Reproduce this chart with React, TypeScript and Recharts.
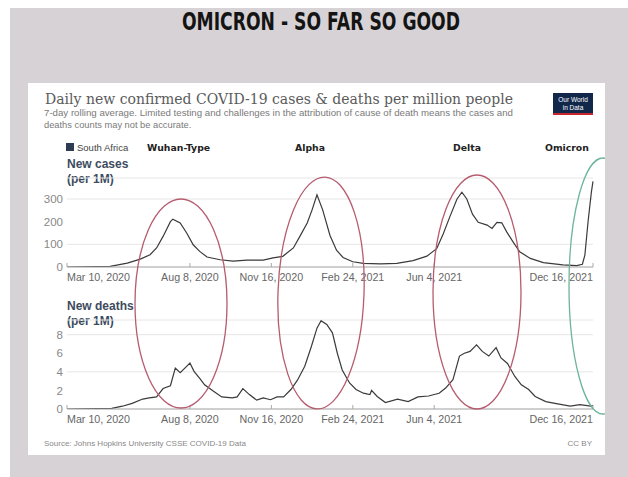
import React from "react";
import { LineChart, Line, XAxis, YAxis, CartesianGrid } from "recharts";

// Days since Mar 10, 2020
const caseDays = [0, 53, 74, 90, 102, 110, 118, 127, 130, 139, 147, 155, 163, 172, 188, 204, 221, 241, 253, 265, 278, 286, 295, 301, 307, 314, 323, 331, 339, 351, 364, 385, 405, 425, 442, 454, 462, 470, 479, 485, 491, 498, 505, 516, 522, 528, 534, 540, 548, 556, 569, 585, 609, 626, 633, 636, 640, 644, 646];
const caseValues = [0, 3, 17, 35, 54, 84, 135, 200, 211, 194, 150, 98, 69, 44, 32, 26, 30, 30, 40, 47, 84, 135, 194, 252, 318, 252, 139, 74, 42, 23, 16, 14, 16, 28, 48, 81, 146, 220, 300, 330, 300, 233, 197, 185, 170, 197, 195, 155, 110, 67, 38, 19, 9, 6, 12, 52, 202, 330, 378];

const deathDays = [0, 55, 68, 80, 93, 101, 110, 118, 127, 133, 139, 146, 151, 156, 163, 169, 180, 190, 203, 209, 216, 224, 233, 241, 250, 258, 266, 275, 283, 292, 300, 307, 312, 319, 326, 332, 338, 347, 355, 364, 372, 374, 381, 391, 406, 419, 431, 444, 457, 465, 474, 482, 488, 495, 503, 510, 518, 527, 533, 541, 550, 558, 567, 575, 588, 601, 618, 630, 643, 646];
const deathValues = [0, 0.07, 0.3, 0.6, 1.07, 1.2, 1.3, 2.2, 2.5, 4.4, 3.9, 4.5, 4.95, 4.05, 3.3, 2.6, 1.9, 1.3, 1.2, 1.3, 2.2, 1.55, 0.95, 1.2, 1.0, 1.3, 1.3, 2.1, 3.1, 4.6, 6.7, 8.7, 9.5, 9.1, 8.2, 6.0, 4.2, 2.8, 2.1, 1.7, 1.55, 2.0, 1.35, 0.7, 1.07, 0.8, 1.3, 1.4, 1.7, 2.25, 3.15, 5.7, 6.0, 6.2, 6.9, 6.2, 5.7, 6.6, 5.5, 4.9, 3.5, 2.6, 2.1, 1.35, 0.8, 0.57, 0.3, 0.47, 0.3, 0.4];

const xTickDays = [0, 151, 251, 351, 451, 646];
const xTickLabels = ["Mar 10, 2020", "Aug 8, 2020", "Nov 16, 2020", "Feb 24, 2021", "Jun 4, 2021", "Dec 16, 2021"];
const caseTicks = [0, 100, 200, 300];
const deathTicks = [0, 2, 4, 6, 8];
const waveLabels = ["Wuhan-Type", "Alpha", "Delta", "Omicron"];

const caseData = caseDays.map((d, i) => ({ day: d, value: caseValues[i] }));
const deathData = deathDays.map((d, i) => ({ day: d, value: deathValues[i] }));

const SANS = "Liberation Sans, Arial, sans-serif";

const XTick = (props: any) => {
  const { x, y, payload } = props;
  const idx = xTickDays.indexOf(payload.value);
  const anchor = idx === 0 ? "start" : idx === xTickDays.length - 1 ? "end" : "middle";
  return (
    <g>
      <line x1={x} x2={x} y1={y - 4} y2={y} stroke="#aaa" strokeWidth={1} />
      <text x={x} y={y + 14} textAnchor={anchor} fontSize={10.7} fill="#666" fontFamily={SANS}>
        {xTickLabels[idx]}
      </text>
    </g>
  );
};

function Panel({ data, ticks, max }: { data: any[]; ticks: number[]; max: number }) {
  return (
    <LineChart width={570} height={117} data={data} margin={{ top: 8, right: 7, bottom: 0, left: 0 }}>
      <CartesianGrid horizontal={true} vertical={false} stroke="#e6e6e6" />
      <XAxis
        dataKey="day"
        type="number"
        domain={[0, 646]}
        ticks={xTickDays}
        height={20}
        tickSize={0}
        tickMargin={0}
        tickLine={false}
        axisLine={{ stroke: "#aaa" }}
        tick={<XTick />}
        interval={0}
      />
      <YAxis
        width={37}
        domain={[0, max]}
        ticks={ticks}
        allowDataOverflow
        axisLine={false}
        tickLine={false}
        tickSize={0}
        tickMargin={4}
        tick={{ fontSize: 11.5, fill: "#888", fontFamily: SANS }}
      />
      <Line type="linear" dataKey="value" stroke="#3a3a3a" strokeWidth={1.2} dot={false} isAnimationActive={false} />
    </LineChart>
  );
}

export default function App() {
  return (
    <div style={{ position: "absolute", left: 0, top: 0, width: 628, height: 477, background: "#fff", overflow: "hidden", fontFamily: SANS }}>
      <div style={{ position: "absolute", left: 10, top: 8, width: 618, height: 469, background: "#d7d2d5" }} />
      <div style={{ position: "absolute", left: 28, top: 83, width: 577, height: 372, background: "#fff" }} />
      <svg width={628} height={477} style={{ position: "absolute", left: 0, top: 0 }}>
        <text x={321} y={30} textAnchor="middle" fontFamily="DejaVu Sans, sans-serif" fontWeight="bold" fontSize={25} textLength={278} lengthAdjust="spacingAndGlyphs" fill="#141414">
          OMICRON - SO FAR SO GOOD
        </text>
        <text x={45} y={104} fontFamily="DejaVu Serif, serif" fontSize={14.5} textLength={468} lengthAdjust="spacingAndGlyphs" fill="#5b5b5b">
          Daily new confirmed COVID-19 cases &amp; deaths per million people
        </text>
        <text x={44} y={116} fontFamily={SANS} fontSize={9.3} textLength={469} lengthAdjust="spacingAndGlyphs" fill="#7a7a7a">
          7-day rolling average. Limited testing and challenges in the attribution of cause of death means the cases and
        </text>
        <text x={44} y={127.5} fontFamily={SANS} fontSize={9.3} fill="#7a7a7a">
          deaths counts may not be accurate.
        </text>
        <rect x={553} y={93} width={40} height={22} fill="#12284b" />
        <rect x={553} y={113} width={40} height={2} fill="#c8252d" />
        <text x={573} y={102} textAnchor="middle" fontFamily={SANS} fontSize={6.5} fill="#fff">Our World</text>
        <text x={573} y={109.5} textAnchor="middle" fontFamily={SANS} fontSize={6.5} fill="#fff">in Data</text>

        <rect x={66} y={143} width={8} height={8} fill="#2f3d52" />
        <text x={77} y={150.5} fontFamily={SANS} fontSize={9.5} fill="#444">South Africa</text>
        <text x={147} y={150.5} fontFamily="DejaVu Sans, sans-serif" fontWeight="bold" fontSize={9.3} fill="#222">{waveLabels[0]}</text>
        <text x={295} y={150.5} fontFamily="DejaVu Sans, sans-serif" fontWeight="bold" fontSize={9.3} fill="#222">{waveLabels[1]}</text>
        <text x={453} y={150.5} fontFamily="DejaVu Sans, sans-serif" fontWeight="bold" fontSize={9.3} fill="#222">{waveLabels[2]}</text>
        <text x={545} y={150.5} fontFamily="DejaVu Sans, sans-serif" fontWeight="bold" fontSize={9.3} fill="#222">{waveLabels[3]}</text>

        <text x={67} y={168} fontFamily={SANS} fontWeight="bold" fontSize={12} fill="#3d4b5e">New cases</text>
        <text x={67} y={183} fontFamily={SANS} fontWeight="bold" fontSize={12} fill="#3d4b5e">(per 1M)</text>
        <text x={67} y={310} fontFamily={SANS} fontWeight="bold" fontSize={12} fill="#3d4b5e">New deaths</text>
        <text x={67} y={325} fontFamily={SANS} fontWeight="bold" fontSize={12} fill="#3d4b5e">(per 1M)</text>

        <text x={44} y={446} fontFamily={SANS} fontSize={8} fill="#888">Source: Johns Hopkins University CSSE COVID-19 Data</text>
        <text x={592} y={446} textAnchor="end" fontFamily={SANS} fontSize={8} fill="#888">CC BY</text>
      </svg>

      <div style={{ position: "absolute", left: 30, top: 170 }}>
        <Panel data={caseData} ticks={caseTicks} max={392.6} />
      </div>
      <div style={{ position: "absolute", left: 30, top: 312 }}>
        <Panel data={deathData} ticks={deathTicks} max={9.58} />
      </div>

      <svg width={628} height={477} style={{ position: "absolute", left: 0, top: 0, pointerEvents: "none" }}>
        <defs>
          <clipPath id="cardClip">
            <rect x={0} y={0} width={605} height={477} />
          </clipPath>
        </defs>
        <ellipse cx={181} cy={303.5} rx={46} ry={104.5} fill="none" stroke="#b65c6f" strokeWidth={1.3} />
        <ellipse cx={321} cy={293} rx={43} ry={116} transform="rotate(2 321 293)" fill="none" stroke="#b65c6f" strokeWidth={1.3} />
        <ellipse cx={477} cy={292} rx={44} ry={117} fill="none" stroke="#b65c6f" strokeWidth={1.3} />
        <g clipPath="url(#cardClip)">
          <ellipse cx={603} cy={286} rx={34} ry={128} fill="none" stroke="#6db59a" strokeWidth={1.3} />
        </g>
      </svg>
    </div>
  );
}
